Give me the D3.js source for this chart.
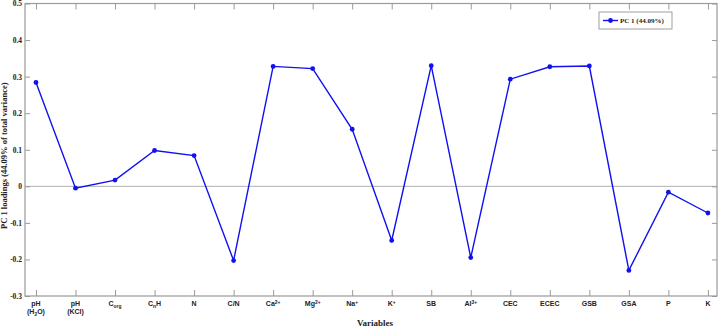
<!DOCTYPE html>
<html>
<head>
<meta charset="utf-8">
<script src="https://cdn.jsdelivr.net/npm/d3@7"></script>
<style>
  body { margin: 0; background: #fff; }
  svg { display: block; }
</style>
</head>
<body>
<div id="chart"></div>
<script>
// labels use _{sub} and ^{sup}, "\n" for second line
const categories = ['pH\n(H_{2}O)', 'pH\n(KCl)', 'C_{org}', 'C_{n}H', 'N', 'C/N', 'Ca^{2+}', 'Mg^{2+}',
    'Na^{+}', 'K^{+}', 'SB', 'Al^{3+}', 'CEC', 'ECEC', 'GSB', 'GSA', 'P', 'K'];
const pc1 = [0.284, -0.005, 0.017, 0.098, 0.084, -0.203, 0.328, 0.322,
    0.156, -0.148, 0.330, -0.195, 0.293, 0.327, 0.329, -0.230, -0.016, -0.073];
const yTicks = [-0.3, -0.2, -0.1, 0, 0.1, 0.2, 0.3, 0.4, 0.5];
const yTickLabels = ['-0.3', '-0.2', '-0.1', '0', '0.1', '0.2', '0.3', '0.4', '0.5'];
const seriesName = 'PC 1 (44.09%)';

const width = 719, height = 329;
const plot = { left: 25, right: 717, top: 3.5, bottom: 296 };
const blue = '#1010f0';
const axisColor = '#9a9a9a';

const svg = d3.select('#chart').append('svg')
    .attr('width', width)
    .attr('height', height);

const x = d3.scaleLinear().domain([-0.278, 17.23]).range([plot.left, plot.right]);
const y = d3.scaleLinear().domain([-0.3, 0.5]).range([plot.bottom, plot.top]);

// zero line
svg.append('line')
    .attr('x1', plot.left).attr('x2', plot.right)
    .attr('y1', y(0)).attr('y2', y(0))
    .attr('stroke', '#b0b0b0').attr('stroke-width', 1);

// axes, ticks inward
const serif = 'Liberation Serif, Times New Roman, serif';
const sans = 'Liberation Sans, Arial, sans-serif';

const leftAxis = svg.append('g')
    .attr('transform', `translate(${plot.left},0)`)
    .call(d3.axisLeft(y).tickValues(yTicks).tickSize(-5).tickPadding(3)
        .tickFormat((d, i) => yTickLabels[i]));
const rightAxis = svg.append('g')
    .attr('transform', `translate(${plot.right},0)`)
    .call(d3.axisRight(y).tickValues(yTicks).tickSize(-5).tickFormat(''));
const bottomAxis = svg.append('g')
    .attr('transform', `translate(0,${plot.bottom})`)
    .call(d3.axisBottom(x).tickValues(d3.range(categories.length)).tickSize(-6).tickFormat(''));
const topAxis = svg.append('g')
    .attr('transform', `translate(0,${plot.top})`)
    .call(d3.axisTop(x).tickValues(d3.range(categories.length)).tickSize(-6).tickFormat(''));

[leftAxis, rightAxis, bottomAxis, topAxis].forEach(g => {
    g.select('.domain').attr('stroke', axisColor).attr('stroke-width', 1.2);
    g.selectAll('.tick line').attr('stroke', axisColor).attr('stroke-width', 1);
});
// domain paths of d3 use outer ticks; redraw as plain lines
[leftAxis, rightAxis, bottomAxis, topAxis].forEach(g => g.select('.domain').remove());
svg.append('rect')
    .attr('x', plot.left).attr('y', plot.top)
    .attr('width', plot.right - plot.left).attr('height', plot.bottom - plot.top)
    .attr('fill', 'none').attr('stroke', axisColor).attr('stroke-width', 1.2);

leftAxis.selectAll('.tick text')
    .attr('font-family', serif).attr('font-weight', 'bold')
    .attr('font-size', 7.5).attr('fill', '#222');

// x category labels with sub/superscripts
function addRich(textSel, str, size) {
    const re = /([_^])\{([^}]*)\}|([^_^]+)/g;
    let m;
    while ((m = re.exec(str)) !== null) {
        if (m[3]) {
            textSel.append('tspan').text(m[3]);
        } else {
            textSel.append('tspan')
                .attr('font-size', size * 0.7)
                .attr('baseline-shift', m[1] === '^' ? '45%' : '-30%')
                .text(m[2]);
        }
    }
}

const xLabels = svg.append('g');
categories.forEach((c, i) => {
    c.split('\n').forEach((line, j) => {
        const t = xLabels.append('text')
            .attr('x', x(i))
            .attr('y', 306 + j * 8)
            .attr('text-anchor', 'middle')
            .attr('font-family', sans)
            .attr('font-weight', 'bold')
            .attr('font-size', 7)
            .attr('fill', '#222');
        addRich(t, line, 7);
    });
});

// axis titles
svg.append('text')
    .attr('x', (plot.left + plot.right) / 2 + 4)
    .attr('y', 326)
    .attr('text-anchor', 'middle')
    .attr('font-family', serif).attr('font-weight', 'bold')
    .attr('font-size', 9).attr('fill', '#222')
    .text('Variables');

svg.append('text')
    .attr('transform', `translate(7,${(plot.top + plot.bottom) / 2 + 6}) rotate(-90)`)
    .attr('text-anchor', 'middle')
    .attr('font-family', serif).attr('font-weight', 'bold')
    .attr('font-size', 8.5).attr('fill', '#222')
    .text('PC 1 loadings (44.09% of total variance)');

// series
const line = d3.line().x((d, i) => x(i)).y(d => y(d));
svg.append('path')
    .datum(pc1)
    .attr('fill', 'none')
    .attr('stroke', blue)
    .attr('stroke-width', 1.4)
    .attr('d', line);

svg.selectAll('.dot')
    .data(pc1)
    .enter()
    .append('circle')
    .attr('class', 'dot')
    .attr('cx', (d, i) => x(i))
    .attr('cy', d => y(d))
    .attr('r', 2.4)
    .attr('fill', blue);

// legend
const legend = svg.append('g').attr('transform', 'translate(599,12)');
legend.append('rect')
    .attr('width', 73).attr('height', 17)
    .attr('fill', '#fff').attr('stroke', '#888').attr('stroke-width', 0.8);
legend.append('line')
    .attr('x1', 4).attr('x2', 19).attr('y1', 8.5).attr('y2', 8.5)
    .attr('stroke', blue).attr('stroke-width', 1.4);
legend.append('circle')
    .attr('cx', 11.5).attr('cy', 8.5).attr('r', 2.4).attr('fill', blue);
legend.append('text')
    .attr('x', 21).attr('y', 11)
    .attr('font-family', serif).attr('font-weight', 'bold')
    .attr('font-size', 7).attr('fill', '#222')
    .text(seriesName);
</script>
</body>
</html>
